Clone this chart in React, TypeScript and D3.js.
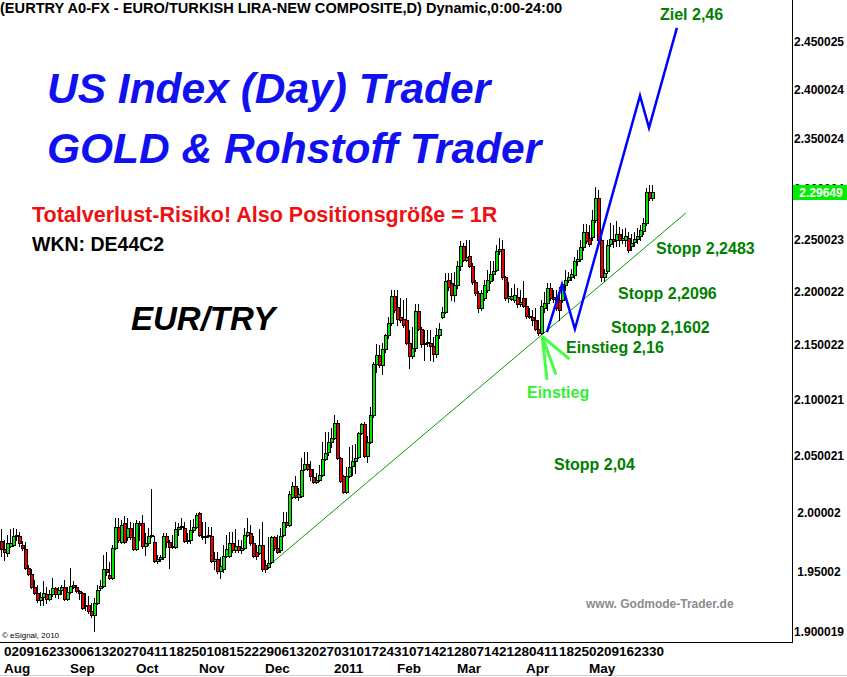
import React from "react";
import * as d3 from "d3";

// ---- data (EUR/TRY daily, 30 Jul 2010 .. 31 May 2011) ----
const opens = [1.976,1.969,1.966,1.972,1.973,1.980,1.980,1.973,1.969,1.953,1.948,1.937,1.932,1.926,1.929,1.931,1.927,1.931,1.936,1.931,1.935,1.937,1.927,1.933,1.939,1.937,1.934,1.932,1.921,1.922,1.917,1.914,1.924,1.936,1.938,1.952,1.947,1.945,1.970,1.988,1.975,1.991,1.979,1.987,1.979,1.969,1.991,1.991,1.972,1.974,1.980,1.975,1.959,1.961,1.962,1.980,1.975,1.971,1.971,1.986,1.988,1.987,1.976,1.977,1.985,1.988,2.000,1.980,1.979,1.981,1.980,1.959,1.961,1.951,1.952,1.963,1.963,1.974,1.968,1.972,1.968,1.970,1.981,1.983,1.974,1.967,1.966,1.973,1.956,1.954,1.958,1.979,1.970,1.968,1.981,1.992,1.990,2.014,2.023,2.014,2.015,2.038,2.043,2.038,2.031,2.027,2.029,2.033,2.047,2.053,2.062,2.066,2.079,2.048,2.032,2.018,2.032,2.041,2.045,2.049,2.070,2.078,2.050,2.062,2.086,2.133,2.141,2.132,2.146,2.159,2.171,2.196,2.186,2.176,2.174,2.173,2.152,2.140,2.147,2.182,2.165,2.151,2.152,2.152,2.149,2.142,2.159,2.176,2.181,2.211,2.208,2.197,2.206,2.225,2.244,2.230,2.234,2.225,2.209,2.199,2.185,2.194,2.202,2.210,2.217,2.221,2.239,2.241,2.214,2.194,2.193,2.192,2.195,2.188,2.194,2.187,2.177,2.176,2.173,2.165,2.161,2.185,2.189,2.204,2.195,2.194,2.192,2.192,2.206,2.211,2.214,2.216,2.229,2.231,2.243,2.257,2.252,2.253,2.269,2.291,2.250,2.214,2.220,2.246,2.251,2.250,2.255,2.250,2.250,2.252,2.244,2.248,2.251,2.254,2.258,2.266,2.297,2.291];
const highs = [1.986,1.977,1.981,1.986,1.987,1.986,1.984,1.976,1.975,1.956,1.952,1.943,1.939,1.933,1.942,1.937,1.935,1.945,1.937,1.937,1.939,1.943,1.937,1.953,1.942,1.939,1.935,1.933,1.932,1.930,1.924,1.928,1.939,1.943,1.964,1.967,1.958,1.973,1.996,1.996,1.994,1.997,1.996,1.992,1.991,1.994,1.993,1.998,1.983,1.987,2.021,1.980,1.964,1.964,1.983,1.983,1.977,1.981,1.992,1.991,1.996,1.992,1.983,1.994,1.995,2.000,2.001,1.992,1.992,1.988,1.988,1.967,1.967,1.962,1.973,1.981,1.984,1.984,1.986,1.977,1.977,1.987,1.996,1.990,1.980,1.973,1.986,1.992,1.960,1.979,1.980,1.980,1.981,1.987,2.001,2.001,2.019,2.027,2.032,2.022,2.048,2.053,2.053,2.045,2.038,2.035,2.042,2.062,2.071,2.071,2.075,2.086,2.082,2.049,2.033,2.040,2.058,2.059,2.060,2.071,2.079,2.080,2.067,2.093,2.134,2.151,2.150,2.152,2.160,2.176,2.202,2.202,2.202,2.194,2.192,2.194,2.164,2.167,2.188,2.188,2.167,2.164,2.164,2.164,2.158,2.166,2.171,2.186,2.218,2.218,2.218,2.219,2.229,2.249,2.247,2.250,2.250,2.227,2.211,2.201,2.202,2.211,2.221,2.229,2.229,2.245,2.252,2.250,2.215,2.209,2.204,2.207,2.204,2.202,2.210,2.194,2.185,2.183,2.185,2.173,2.192,2.200,2.208,2.208,2.202,2.202,2.205,2.208,2.221,2.219,2.222,2.233,2.240,2.250,2.265,2.265,2.264,2.279,2.302,2.299,2.252,2.222,2.250,2.266,2.264,2.268,2.262,2.260,2.261,2.257,2.255,2.257,2.261,2.264,2.271,2.301,2.304,2.304];
const lows = [1.963,1.960,1.963,1.971,1.972,1.977,1.972,1.968,1.952,1.947,1.936,1.931,1.925,1.922,1.922,1.924,1.926,1.930,1.929,1.928,1.931,1.926,1.926,1.932,1.936,1.933,1.927,1.919,1.918,1.916,1.912,1.901,1.923,1.935,1.937,1.947,1.944,1.944,1.969,1.975,1.974,1.974,1.977,1.978,1.968,1.968,1.977,1.970,1.964,1.973,1.979,1.958,1.957,1.959,1.961,1.971,1.953,1.970,1.970,1.981,1.986,1.975,1.974,1.974,1.984,1.987,1.980,1.978,1.974,1.979,1.958,1.952,1.949,1.945,1.950,1.962,1.962,1.967,1.967,1.967,1.966,1.969,1.980,1.973,1.962,1.961,1.965,1.951,1.950,1.953,1.957,1.968,1.966,1.967,1.980,1.988,1.989,2.013,2.013,2.011,2.014,2.037,2.037,2.029,2.026,2.026,2.028,2.032,2.046,2.051,2.058,2.065,2.047,2.027,2.017,2.017,2.031,2.033,2.035,2.048,2.069,2.049,2.044,2.061,2.084,2.125,2.130,2.123,2.144,2.157,2.169,2.181,2.169,2.172,2.167,2.151,2.129,2.138,2.145,2.164,2.148,2.136,2.149,2.136,2.135,2.139,2.157,2.175,2.180,2.202,2.192,2.191,2.204,2.221,2.229,2.229,2.224,2.207,2.197,2.181,2.183,2.192,2.200,2.208,2.211,2.220,2.236,2.212,2.192,2.190,2.192,2.190,2.186,2.187,2.186,2.175,2.175,2.169,2.164,2.159,2.160,2.181,2.183,2.192,2.190,2.183,2.173,2.190,2.202,2.209,2.211,2.213,2.226,2.229,2.240,2.247,2.244,2.250,2.267,2.248,2.210,2.210,2.218,2.244,2.243,2.244,2.244,2.247,2.244,2.238,2.240,2.244,2.247,2.250,2.255,2.264,2.289,2.289];
const closes = [1.969,1.967,1.974,1.974,1.980,1.981,1.974,1.970,1.953,1.948,1.937,1.932,1.926,1.929,1.932,1.927,1.931,1.936,1.931,1.935,1.937,1.927,1.933,1.938,1.937,1.934,1.932,1.920,1.922,1.917,1.914,1.924,1.935,1.938,1.952,1.950,1.945,1.970,1.988,1.977,1.990,1.975,1.987,1.979,1.969,1.991,1.990,1.972,1.974,1.980,1.981,1.959,1.961,1.962,1.980,1.975,1.971,1.972,1.986,1.988,1.989,1.976,1.977,1.985,1.988,1.998,1.981,1.979,1.980,1.980,1.959,1.961,1.951,1.955,1.963,1.969,1.974,1.968,1.972,1.968,1.970,1.981,1.984,1.974,1.963,1.963,1.973,1.952,1.952,1.957,1.979,1.970,1.967,1.980,1.992,1.990,2.016,2.023,2.014,2.016,2.037,2.043,2.038,2.032,2.027,2.029,2.033,2.047,2.052,2.062,2.066,2.079,2.048,2.028,2.018,2.032,2.040,2.045,2.048,2.070,2.078,2.050,2.062,2.086,2.133,2.141,2.132,2.146,2.159,2.171,2.196,2.183,2.174,2.173,2.169,2.152,2.140,2.147,2.182,2.165,2.151,2.152,2.153,2.149,2.142,2.159,2.165,2.181,2.210,2.205,2.197,2.206,2.225,2.244,2.230,2.233,2.225,2.209,2.199,2.185,2.199,2.206,2.211,2.217,2.220,2.239,2.241,2.214,2.194,2.196,2.196,2.197,2.188,2.190,2.187,2.177,2.176,2.173,2.165,2.161,2.187,2.189,2.204,2.194,2.193,2.185,2.183,2.207,2.211,2.214,2.217,2.229,2.231,2.243,2.257,2.249,2.246,2.269,2.291,2.250,2.214,2.218,2.245,2.251,2.249,2.255,2.250,2.252,2.254,2.240,2.247,2.251,2.254,2.259,2.266,2.297,2.291,2.2965];

// weekly day labels (Mondays) and month labels
const weekDayLabels = ["02","09","16","23","30","06","13","20","27","04","11","18","25","01","08","15","22","29","06","13","20","27","03","10","17","24","31","07","14","21","28","07","14","21","28","04","11","18","25","02","09","16","23","30"];
const weekStartIndex = weekDayLabels.map((_, w) => 1 + 5 * w);
const monthLabels = ["Aug","Sep","Oct","Nov","Dec","2011","Feb","Mar","Apr","May"];
const monthIndex = [1, 23, 45, 66, 88, 111, 132, 152, 175, 196];

// price axis
const yTickValues = [2.45, 2.40, 2.35, 2.30, 2.25, 2.20, 2.15, 2.10, 2.05, 2.00, 1.95, 1.90];
const yTickLabels = ["2.450025","2.400024","2.350024","2.300024","2.250023","2.200022","2.150022","2.100021","2.050021","2.00002","1.95002","1.900019"];
const lastPrice = 2.29649;

// drawn annotations (index, price)
const trendLine = [[88.7, 1.954], [228.3, 2.276]];
const projection = [[182, 2.162], [187, 2.207], [191.3, 2.165], [213, 2.394], [216, 2.361], [225.3, 2.465]];
const arrowTip = [180.4, 2.158];
const arrowEnds = [[182, 2.118], [185, 2.123], [189.5, 2.137]];

const W = 847, H = 677;
const FONT = "'Liberation Sans', Arial, sans-serif";

export default function App() {
  const x = d3.scaleLinear().domain([0, 217]).range([1, 652]);
  const y = d3.scaleLog().domain([1.9, 2.45]).range([632, 42]);
  const line = d3.line<number[]>().x(d => x(d[0])).y(d => y(d[1]));
  const candles = opens.map((o, i) => ({ i, o, h: highs[i], l: lows[i], c: closes[i] }));
  const lastY = Math.round(y(lastPrice));

  return (
    <svg width={W} height={H} style={{ position: "absolute", left: 0, top: 0, background: "#fff" }} fontFamily={FONT}>
      <defs>
        <clipPath id="hiddenTick">
          <rect x={793} y={0} width={54} height={lastY - 7} />
        </clipPath>
      </defs>
      <rect x={0} y={0} width={W} height={H} fill="#fff" />
      {/* title */}
      <text x={0} y={13} fontSize={14.6} fontWeight="bold" fill="#000">(EURTRY A0-FX - EURO/TURKISH LIRA-NEW COMPOSITE,D) Dynamic,0:00-24:00</text>

      {/* trend line */}
      <path d={line(trendLine as any) || ""} stroke="#0a9a0a" strokeWidth={1} fill="none" />

      {/* candles */}
      <g shapeRendering="crispEdges">
        {candles.map(d => {
          const cx = Math.round(x(d.i));
          const up = d.c >= d.o;
          const yt = Math.round(y(Math.max(d.o, d.c)));
          const yb = Math.round(y(Math.min(d.o, d.c)));
          const hh = Math.max(yb - yt, 1);
          return (
            <g key={d.i}>
              <line x1={cx + 0.5} x2={cx + 0.5} y1={Math.round(y(d.h))} y2={Math.round(y(d.l)) + 1} stroke="#000" strokeWidth={1} />
              <rect x={cx - 0.5} y={yt + 0.5} width={3} height={hh} fill={up ? "#00e600" : "#ee0000"} stroke="#000" strokeWidth={1} />
            </g>
          );
        })}
      </g>

      {/* blue projection */}
      <path d={line(projection as any) || ""} stroke="#0000ff" strokeWidth={2.5} fill="none" strokeLinejoin="miter" />

      {/* einstieg arrow */}
      {arrowEnds.map((e, k) => (
        <line key={k} x1={x(arrowTip[0])} y1={y(arrowTip[1])} x2={x(e[0])} y2={y(e[1])} stroke="#44ff44" strokeWidth={3} />
      ))}

      {/* axes frame */}
      <line x1={792.5} x2={792.5} y1={0} y2={643} stroke="#000" strokeWidth={1} />
      <line x1={0} x2={793} y1={642.5} y2={642.5} stroke="#000" strokeWidth={1} />
      <line x1={0} x2={W} y1={675.5} y2={675.5} stroke="#d0d0d0" strokeWidth={1} />

      {/* y tick labels */}
      {yTickValues.map((v, k) => (
        <text key={k} x={819} y={y(v)} dy="0.35em" textAnchor="middle" fontSize={12} fontWeight="bold" fill="#000"
          clipPath={Math.abs(y(v) - lastY) < 14 ? "url(#hiddenTick)" : undefined}>{yTickLabels[k]}</text>
      ))}
      <rect x={793} y={lastY - 7} width={54} height={15} fill="#00ee00" />
      <text x={821} y={lastY + 1} dy="0.35em" textAnchor="middle" fontSize={12} fontWeight="bold" fill="#fff">{lastPrice.toFixed(5)}</text>

      {/* x labels */}
      {weekDayLabels.map((t, k) => (
        <text key={k} x={x(weekStartIndex[k])} y={656} fontSize={13.5} fontWeight="bold" fill="#000">{t}</text>
      ))}
      {monthLabels.map((t, k) => (
        <text key={k} x={x(monthIndex[k])} y={673} fontSize={13.5} fontWeight="bold" fill="#000">{t}</text>
      ))}
      <text x={2} y={638} fontSize={8} fill="#000">© eSignal, 2010</text>

      {/* promo texts */}
      <text x={47} y={103} fontSize={42.5} fontWeight="bold" fontStyle="italic" fill="#1010f0">US Index (Day) Trader</text>
      <text x={47} y={163} fontSize={42.5} fontWeight="bold" fontStyle="italic" fill="#1010f0">GOLD &amp; Rohstoff Trader</text>
      <text x={32} y={222} fontSize={21.5} fontWeight="bold" fill="#ee1111">Totalverlust-Risiko! Also Positionsgröße = 1R</text>
      <text x={32} y={251} fontSize={19.5} fontWeight="bold" fill="#000">WKN: DE44C2</text>
      <text x={131} y={330} fontSize={33} fontWeight="bold" fontStyle="italic" fill="#000">EUR/TRY</text>

      {/* green annotations */}
      <text x={660} y={20} fontSize={16} fontWeight="bold" fill="#008000">Ziel 2,46</text>
      <text x={656} y={254} fontSize={16} fontWeight="bold" fill="#008000">Stopp 2,2483</text>
      <text x={618} y={299} fontSize={16} fontWeight="bold" fill="#008000">Stopp 2,2096</text>
      <text x={611} y={333} fontSize={16} fontWeight="bold" fill="#008000">Stopp 2,1602</text>
      <text x={566} y={353} fontSize={16} fontWeight="bold" fill="#008000">Einstieg 2,16</text>
      <text x={527} y={398} fontSize={16} fontWeight="bold" fill="#33ee33">Einstieg</text>
      <text x={554} y={470} fontSize={16} fontWeight="bold" fill="#008000">Stopp 2,04</text>
      <text x={586} y={608} fontSize={12} fontWeight="bold" fill="#8c8c8c">www. Godmode-Trader.de</text>
    </svg>
  );
}
